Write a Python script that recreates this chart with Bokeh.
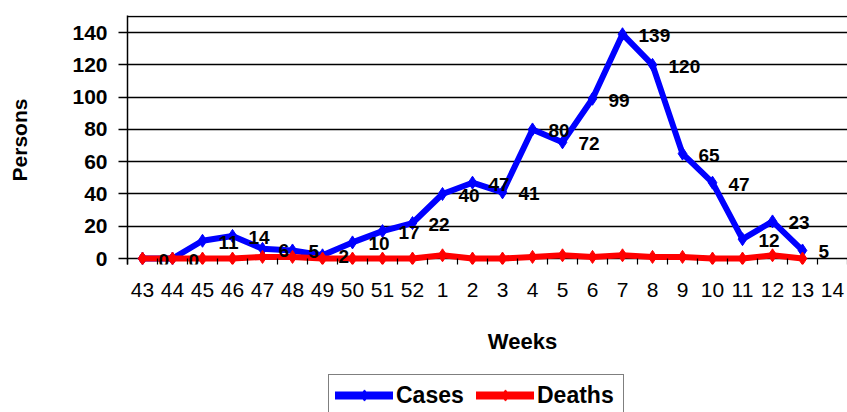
import numpy as np
from bokeh.plotting import figure
from bokeh.layouts import column
from bokeh.models import Range1d, FixedTicker, Legend, LegendItem, Label, ColumnDataSource
from bokeh.core.properties import value
from bokeh.embed import file_html
from bokeh.resources import INLINE

# ---- data ----
weeks = ["43", "44", "45", "46", "47", "48", "49", "50", "51", "52",
         "1", "2", "3", "4", "5", "6", "7", "8", "9", "10", "11", "12", "13", "14"]
cases = [0, 0, 11, 14, 6, 5, 2, 10, 17, 22, 40, 47, 41, 80, 72, 99, 139, 120, 65, 47, 12, 23, 5]
deaths = [0, 0, 0, 0, 1, 1, 0, 0, 0, 0, 2, 0, 0, 1, 2, 1, 2, 1, 1, 0, 0, 2, 0]
y_ticks = [0, 20, 40, 60, 80, 100, 120, 140]
y_max = 150
series_names = ["Cases", "Deaths"]

FONT = "Liberation Sans"
BLUE = "#0000FF"
RED = "#FF0000"

x_idx = list(range(len(cases)))
src = ColumnDataSource(dict(x=x_idx, cases=cases, deaths=deaths,
                            lab=[str(c) for c in cases]))

p = figure(frame_width=720, frame_height=249, output_backend="svg", toolbar_location=None,
           x_range=Range1d(-0.5, len(weeks) - 0.5), y_range=Range1d(-3.7, y_max + 0.6),
           min_border_left=127, min_border_right=0, min_border_top=15, min_border_bottom=46)
p.outline_line_color = None
p.background_fill_color = "white"
p.border_fill_color = "white"

# y axis
p.yaxis.ticker = FixedTicker(ticks=y_ticks)
p.yaxis.major_label_text_font = FONT
p.yaxis.major_label_text_font_style = "bold"
p.yaxis.major_label_text_font_size = "21px"
p.yaxis.major_label_text_color = "black"
p.yaxis.major_tick_out = 9
p.yaxis.major_tick_in = 0
p.yaxis.major_tick_line_color = "black"
p.yaxis.major_tick_line_width = 1.5
p.yaxis.major_label_standoff = 11
p.yaxis.axis_line_color = "black"
p.yaxis.axis_line_width = 1.5
p.yaxis.axis_label = "Persons"
p.yaxis.axis_label_text_font = FONT
p.yaxis.axis_label_text_font_style = "bold"
p.yaxis.axis_label_text_font_size = "21px"
p.yaxis.axis_label_text_color = "black"
p.yaxis.axis_label_standoff = 38

p.ygrid.ticker = FixedTicker(ticks=y_ticks + [y_max])
p.ygrid.grid_line_color = "black"
p.ygrid.grid_line_width = 1.3
p.xgrid.visible = False

# x axis
p.xaxis.ticker = FixedTicker(ticks=list(range(len(weeks))),
                             minor_ticks=[i - 0.5 for i in range(len(weeks) + 1)])
p.xaxis.major_label_overrides = {i: w for i, w in enumerate(weeks)}
p.xaxis.major_label_text_font = FONT
p.xaxis.major_label_text_font_style = "normal"
p.xaxis.major_label_text_font_size = "21px"
p.xaxis.major_label_text_color = "black"
p.xaxis.major_label_standoff = 18
p.xaxis.major_tick_out = 0
p.xaxis.major_tick_in = 0
p.xaxis.minor_tick_in = 6
p.xaxis.minor_tick_out = 0
p.xaxis.minor_tick_line_color = "black"
p.xaxis.minor_tick_line_width = 1.2
p.xaxis.axis_line_color = None

# series
bl = p.line("x", "cases", source=src, line_width=6, color=BLUE, line_join="round")
bs = p.scatter("x", "cases", source=src, marker="diamond", size=13, color=BLUE)
rl = p.line("x", "deaths", source=src, line_width=6, color=RED, line_join="round")
rs = p.scatter("x", "deaths", source=src, marker="diamond", size=13, color=RED)
p.text("x", "cases", text="lab", source=src, x_offset=16, y_offset=1.5,
       text_baseline="middle", text_align="left", text_font=value(FONT),
       text_font_style="bold", text_font_size="19px", text_color="black")

# strip below the chart: x-axis title and legend
lg = figure(width=847, height=102, output_backend="svg", toolbar_location=None,
            x_axis_type=None, y_axis_type=None, min_border=0,
            x_range=Range1d(-200, -199), y_range=Range1d(-200, -199))
lg.outline_line_color = None
lg.grid.visible = False
lg.background_fill_color = "white"
lg.border_fill_color = "white"

lg.add_layout(Label(x=395, y=71, x_units="screen", y_units="screen", text="Weeks",
                    text_align="center", text_baseline="middle", text_font=FONT,
                    text_font_style="bold", text_font_size="22px", text_color="black"))

items = []
for name, ycol, col in zip(series_names, ["cases", "deaths"], [BLUE, RED]):
    r1 = lg.line("x", ycol, source=src, line_width=8, color=col, line_cap="round")
    r2 = lg.scatter("x", ycol, source=src, marker="diamond", size=12, color=col)
    items.append(LegendItem(label=name, renderers=[r1, r2]))

legend = Legend(items=items, location=(201, -4), orientation="horizontal",
                label_text_font=FONT, label_text_font_style="bold",
                label_text_font_size="23px", label_text_color="black",
                glyph_width=58, glyph_height=28, label_height=28, label_width=80,
                label_standoff=3, spacing=0,
                padding=6, margin=0, border_line_color="black", border_line_width=1.5,
                background_fill_color="white", background_fill_alpha=1.0)
lg.add_layout(legend)

open("out.html", "w").write(file_html(column(p, lg, spacing=0), INLINE))
